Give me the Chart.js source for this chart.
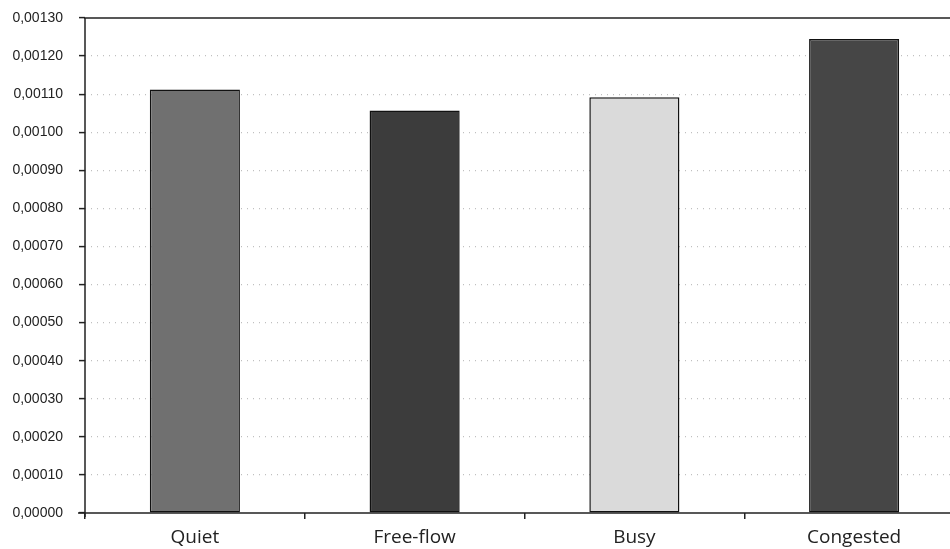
<!DOCTYPE html>
<html>
<head>
<meta charset="utf-8">
<script src="https://cdn.jsdelivr.net/npm/chart.js@4"></script>
<style>
  html, body { margin: 0; padding: 0; background: #fff; overflow: hidden; width: 950px; height: 549px; }
  #wrap { width: 966px; height: 549px; }
</style>
</head>
<body>
<div id="wrap"><canvas id="c"></canvas></div>
<script>
const categories = ["Quiet", "Free-flow", "Busy", "Congested"];
const values = [0.001112, 0.001057, 0.001092, 0.001245];
const barColors = ["#707070", "#3c3c3c", "#dadada", "#464646"];
const yMin = 0, yMax = 0.0013, yStep = 0.0001;

const axisLines = {
  id: 'axisLines',
  afterDraw(chart) {
    const {ctx, chartArea} = chart;
    ctx.save();
    ctx.strokeStyle = '#222';
    ctx.lineWidth = 1.5;
    ctx.setLineDash([]);
    ctx.beginPath();
    ctx.moveTo(chartArea.left - 1, chartArea.top);
    ctx.lineTo(chart.width, chartArea.top);
    ctx.moveTo(chartArea.left, chartArea.top);
    ctx.lineTo(chartArea.left, chartArea.bottom + 4);
    ctx.moveTo(chartArea.left - 7, chartArea.bottom);
    ctx.lineTo(chart.width, chartArea.bottom);
    ctx.stroke();
    ctx.restore();
  }
};

new Chart(document.getElementById('c'), {
  type: 'bar',
  data: {
    labels: categories,
    datasets: [{
      data: values,
      backgroundColor: barColors,
      borderColor: '#111',
      borderWidth: 1.5,
      borderSkipped: false,
      barPercentage: 0.41,
      categoryPercentage: 1.0
    }]
  },
  options: {
    responsive: true,
    maintainAspectRatio: false,
    animation: false,
    layout: { padding: { top: 18, right: 2, left: 0, bottom: 0 } },
    plugins: { legend: { display: false }, tooltip: { enabled: false } },
    scales: {
      x: {
        offset: true,
        grid: { offset: true, drawOnChartArea: false, drawTicks: true, tickLength: 6, color: '#222', lineWidth: 1.5 },
        border: { display: false },
        ticks: { color: '#222', padding: 7, font: { family: 'Open Sans', size: 19 } },
        afterFit(s) { s.height = 36; s.paddingLeft = 0; s.paddingRight = 0; }
      },
      y: {
        min: yMin, max: yMax,
        grid: {
          drawOnChartArea: true, drawTicks: true, tickLength: 6,
          color: (c) => (c.tick && (c.tick.value === yMax || c.tick.value === yMin)) ? 'rgba(0,0,0,0)' : '#c0c0c0',
          lineWidth: 1.2,
          tickColor: '#222',
          tickWidth: 1.5,
          tickBorderDash: []
        },
        border: { display: false, dash: [1, 5] },
        ticks: {
          stepSize: yStep,
          color: '#222',
          padding: 16,
          font: { family: 'Liberation Sans', size: 14 },
          callback: (v) => v.toFixed(5).replace('.', ',')
        },
        afterFit(s) { s.width = 85; s.paddingTop = 0; s.paddingBottom = 0; }
      }
    }
  },
  plugins: [axisLines]
});
</script>
</body>
</html>
